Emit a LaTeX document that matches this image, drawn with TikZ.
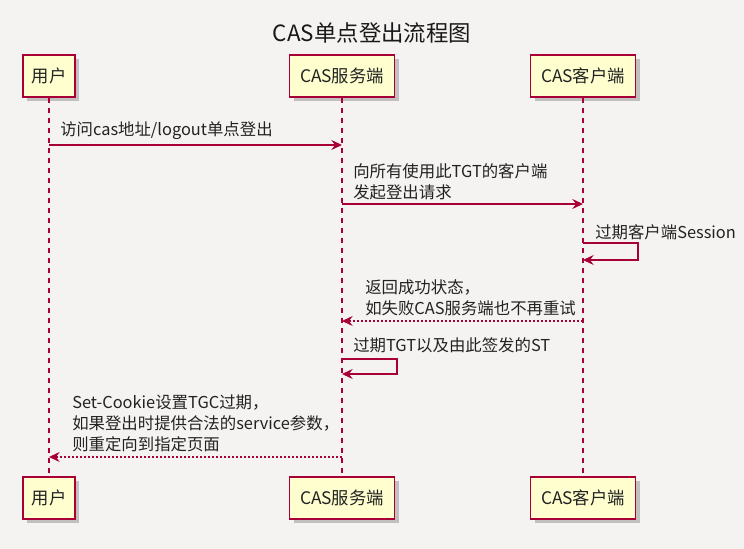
\documentclass[tikz,border=0pt]{standalone}
\usepackage{xcolor}
\usepackage{fontspec}
\setmainfont{Noto Sans CJK SC}
\usepackage{tikz}
\usetikzlibrary{positioning}
\usetikzlibrary{arrows.meta,shadows}

\definecolor{umlred}{HTML}{A80036}
\definecolor{umlbox}{HTML}{FEFECE}
\definecolor{umlbg}{HTML}{F5F3F2}
\definecolor{umltext}{HTML}{222222}

\begin{document}
\begin{tikzpicture}[x=0.75pt,y=-0.75pt,>={Stealth[length=8pt,width=7.5pt,inset=2.8pt]},
    actor/.style={draw=umlred,line width=1.2pt,fill=umlbox,minimum height=31.5pt,text=umltext,
      font=\fontsize{13}{15}\selectfont,
      drop shadow={shadow xshift=3pt,shadow yshift=-3pt,opacity=0.3,fill=black!70}},
    life/.style={umlred,line width=0.9pt,dash pattern=on 3.75pt off 3.75pt},
    msg/.style={->,umlred,line width=0.8pt},
    reply/.style={msg,dash pattern=on 1.5pt off 1.5pt},
    txt/.style={anchor=west,inner sep=0pt,align=left,text=umltext,
      font=\fontsize{12.3}{15.75}\selectfont},
    node distance=316.5pt]
  \fill[umlbg] (0,0) rectangle (744,549);
  \node[text=black!90,font=\fontsize{16.8}{20}\selectfont] (T) at (372,33) {CAS单点登出流程图};

  % participants
  \node[actor,minimum width=39pt] (U) at (49,76) {用户};
  \node[actor,minimum width=78.75pt] (S) at (342,76) {CAS服务端};
  \node[actor,minimum width=78.75pt] (C) at (583,76) {CAS客户端};
  \node[actor,minimum width=39pt] (U2) [below of=U] {用户};
  \node[actor,minimum width=78.75pt] (S2) [below of=S] {CAS服务端};
  \node[actor,minimum width=78.75pt] (C2) [below of=C] {CAS客户端};
  \draw[life] (U) -- (U2);
  \draw[life] (S) -- (S2);
  \draw[life] (C) -- (C2);

  % messages
  \coordinate (u1) at (U |- 0,145);
  \coordinate (s1) at (S |- 0,145);
  \draw[msg] (u1) -- (s1);
  \node[txt] (l1) at (60,131) {访问cas地址/logout单点登出};

  \coordinate (s2) at (S |- 0,204);
  \coordinate (c2) at (C |- 0,204);
  \draw[msg] (s2) -- (c2);
  \node[txt] (l2) at (353,181.5) {向所有使用此TGT的客户端\\发起登出请求};

  \coordinate (c3a) at (C |- 0,243);
  \coordinate (c3b) at (C |- 0,260);
  \draw[msg] (c3a) -- ++(55,0) |- (c3b);
  \node[txt] (l3) at (595,232) {过期客户端Session};

  \coordinate (c4) at (C |- 0,321);
  \coordinate (s4) at (S |- 0,321);
  \draw[reply] (c4) -- (s4);
  \node[txt] (l4) at (365,297.5) {返回成功状态，\\如失败CAS服务端也不再重试};

  \coordinate (s5a) at (S |- 0,359);
  \coordinate (s5b) at (S |- 0,374);
  \draw[msg] (s5a) -- ++(55,0) |- (s5b);
  \node[txt] (l5) at (353,345) {过期TGT以及由此签发的ST};

  \coordinate (s6) at (S |- 0,457);
  \coordinate (u6) at (U |- 0,457);
  \draw[reply] (s6) -- (u6);
  \node[txt] (l6) at (72,423) {Set-Cookie设置TGC过期，\\如果登出时提供合法的service参数，\\则重定向到指定页面};
\end{tikzpicture}
\end{document}
